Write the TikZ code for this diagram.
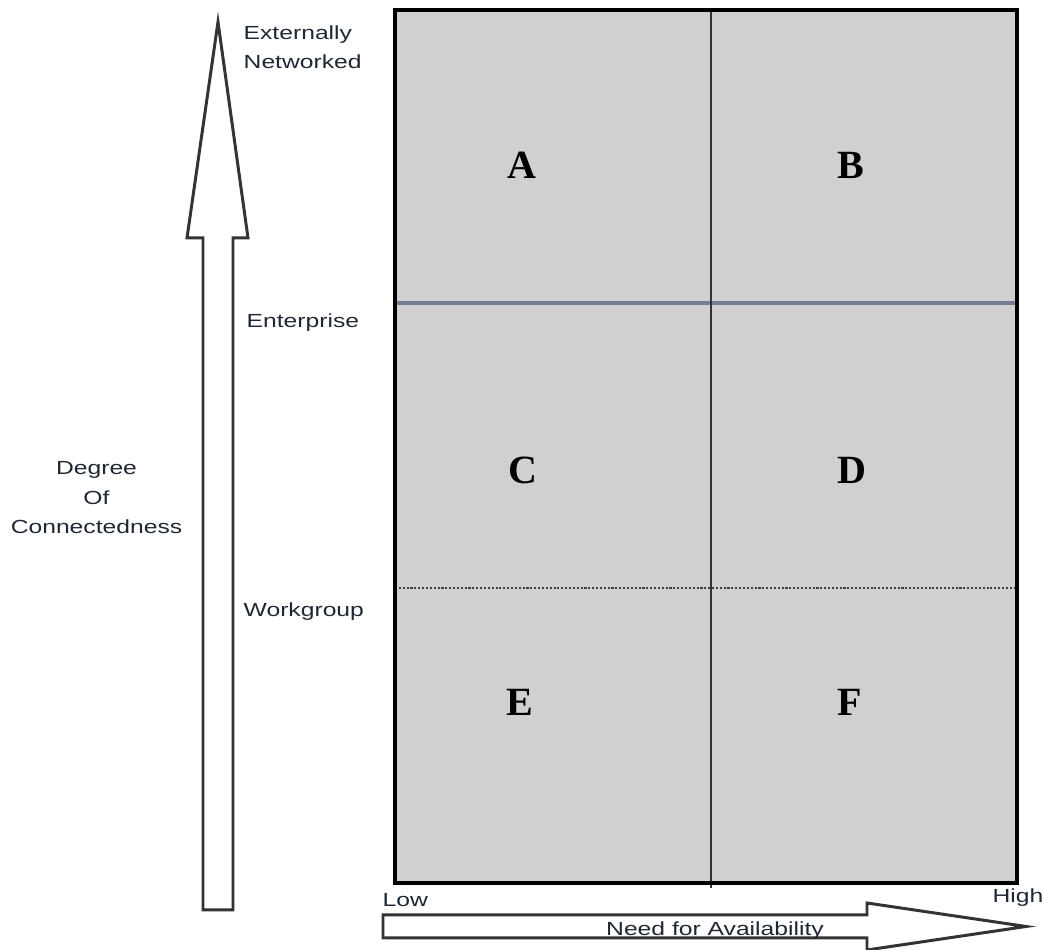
\documentclass[tikz,border=0pt]{standalone}
\usepackage{fontspec}
\setmainfont{Liberation Serif}
\newfontfamily\axisfont[FakeStretch=1.3]{Liberation Sans}
\usepackage{tikz}
\usetikzlibrary{positioning}

\definecolor{cellgray}{RGB}{208,208,210}
\definecolor{labelcol}{RGB}{30,40,52}
\definecolor{gridline}{RGB}{120,126,145}

\begin{document}
\begin{tikzpicture}[
        every node/.style={inner sep=0pt},
        axislabel/.style={font=\axisfont\fontsize{5.4}{8.4}\selectfont, text=labelcol},
        cellletter/.style={font=\fontsize{11.4}{13}\selectfont\bfseries},
        blockarrow/.style={draw=black!80, fill=white, line width=0.85pt, line join=miter}
    ]
    \useasboundingbox (0,0) rectangle (10.44,9.5);

    % Grid
    \fill[cellgray] (3.95,0.67) rectangle (10.17,9.40);
    \draw[gridline, line width=0.9pt] (3.95,6.47) -- (10.17,6.47);
    \draw[black!75, line width=0.8pt, dash pattern=on 0.6pt off 0.5pt] (3.95,3.62) -- (10.17,3.62);
    \draw[black!80, line width=0.6pt] (7.11,9.40) -- (7.11,0.62);
    \draw[line width=1.1pt] (3.95,0.67) rectangle (10.17,9.40);

    % Cells
    \node[cellletter] (cellA) at (5.22,7.85) {A};
    \node[cellletter] (cellB) at (8.51,7.85) {B};
    \node[cellletter] (cellC) at (5.23,4.80) {C};
    \node[cellletter] (cellD) at (8.52,4.80) {D};
    \node[cellletter] (cellE) at (5.20,2.48) {E};
    \node[cellletter] (cellF) at (8.50,2.48) {F};

    % Vertical axis arrow
    \draw[blockarrow] (2.03,0.40) -- (2.03,7.12) -- (1.87,7.12) -- (2.18,9.28)
        -- (2.48,7.12) -- (2.33,7.12) -- (2.33,0.40) -- cycle;

    % Horizontal axis arrow
    \draw[blockarrow] (3.83,0.12) -- (8.67,0.12) -- (8.67,0.0) -- (10.26,0.235)
        -- (8.67,0.47) -- (8.67,0.35) -- (3.83,0.35) -- cycle;

    % Axis labels
    \node[axislabel, anchor=west, align=left] (extnet) at (2.43,9.03) {Externally\\Networked};
    \node[axislabel, anchor=west] (enterprise) at (2.46,6.27) {Enterprise};
    \node[axislabel, anchor=west] (workgroup) at (2.43,3.38) {Workgroup};
    \node[axislabel, align=center] (degree) at (0.965,4.52) {Degree\\Of\\Connectedness};
    \node[axislabel, anchor=west] (low) at (3.82,0.50) {Low};
    \node[axislabel, anchor=east] (high) at (10.44,0.52) {High};
    \node[axislabel, anchor=base] (need) at (7.15,0.14) {Need for Availability};

\end{tikzpicture}
\end{document}
